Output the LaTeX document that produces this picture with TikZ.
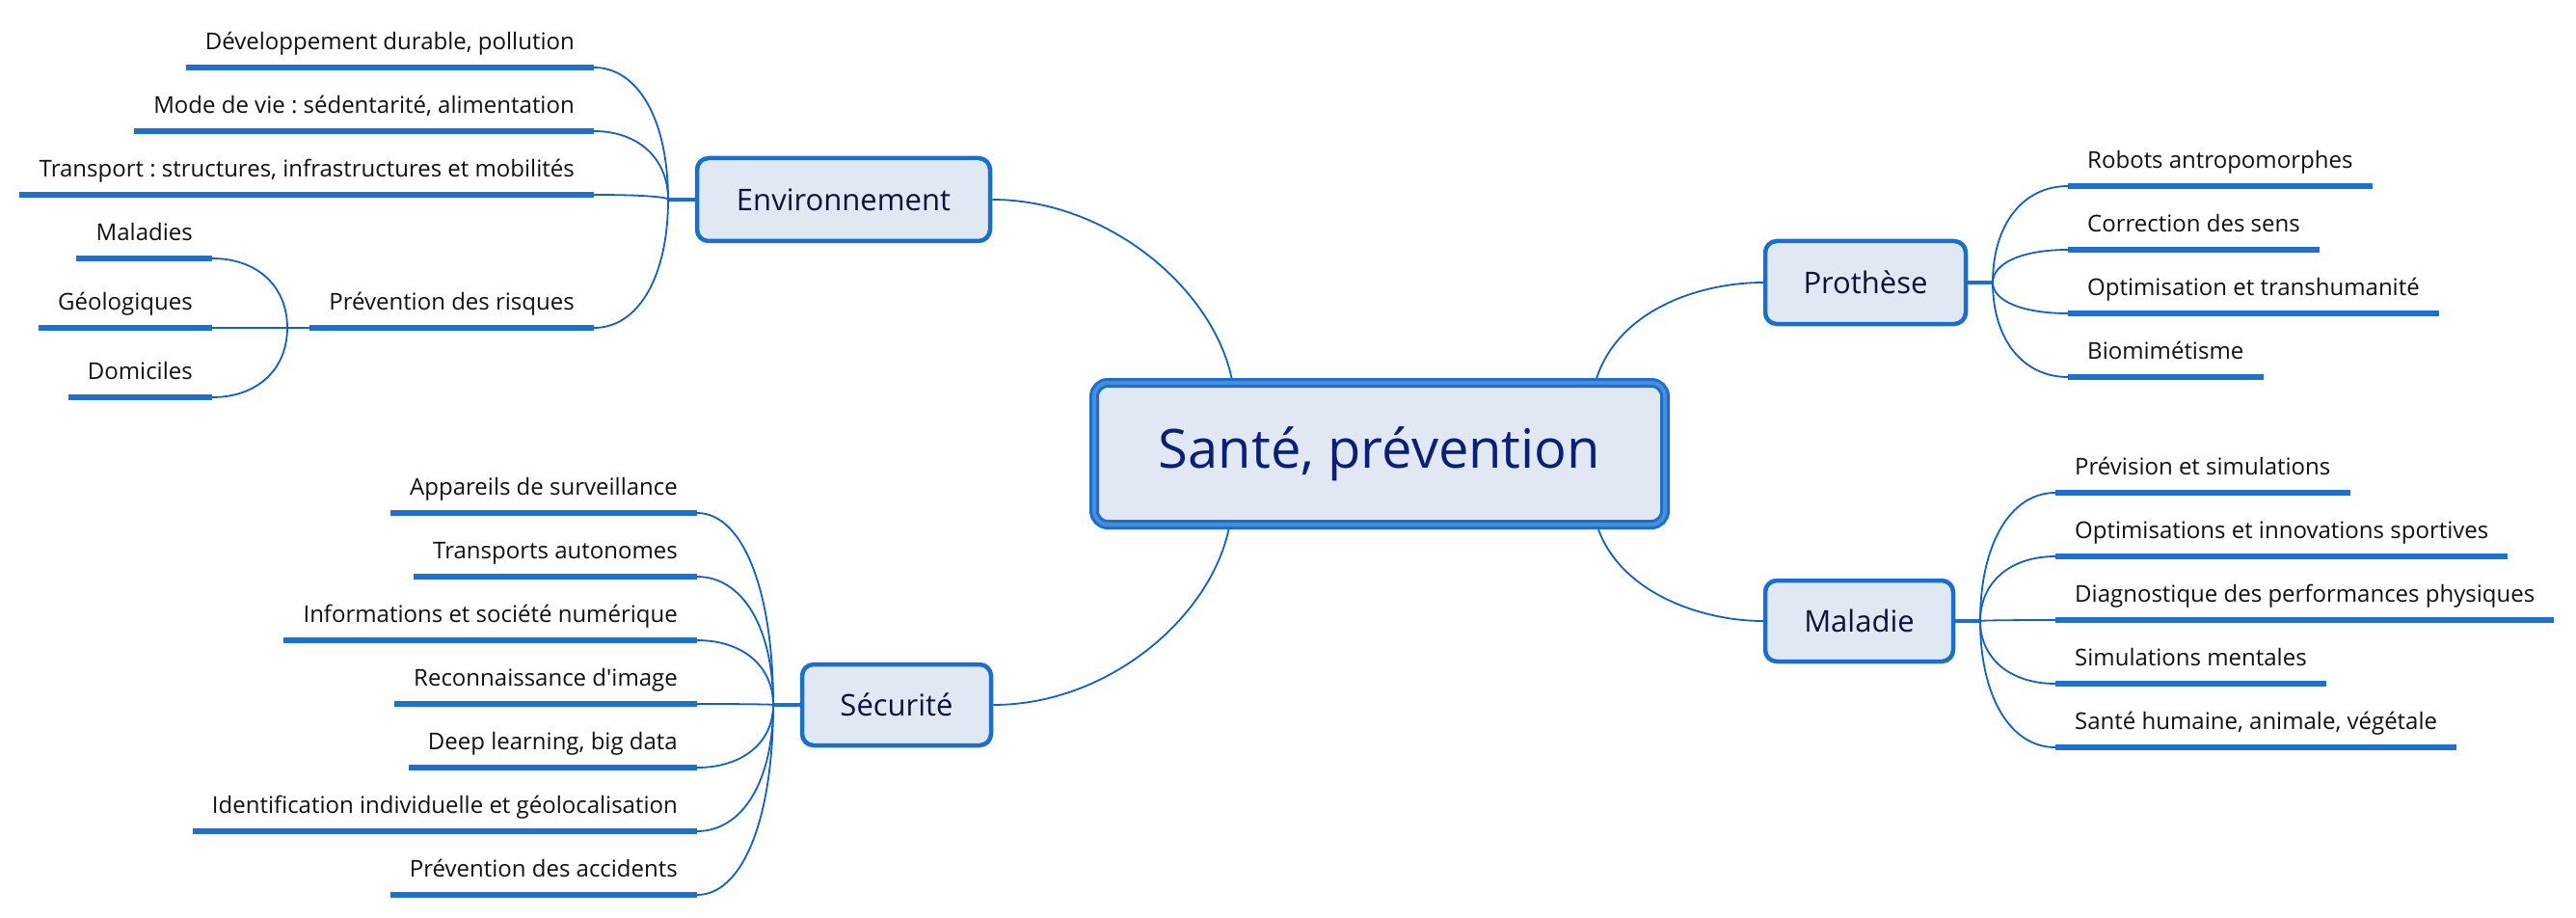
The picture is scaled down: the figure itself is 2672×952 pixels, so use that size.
\documentclass[tikz,border=0pt]{standalone}
\usepackage{fontspec}
\setmainfont{Open Sans}
\usetikzlibrary{calc}
\frenchspacing
\definecolor{barblue}{RGB}{30,112,205}
\definecolor{linkblue}{RGB}{18,96,192}
\definecolor{boxfill}{RGB}{223,232,243}
\definecolor{boxdraw}{RGB}{28,110,203}
\definecolor{boxlight}{RGB}{72,140,218}
\definecolor{navy}{RGB}{12,30,120}
\definecolor{txt}{RGB}{17,17,17}
\definecolor{toptxt}{RGB}{10,20,55}
\newcommand\linkcurve[2]{\draw[link] (#1) .. controls ($(#1)!0.6!(#1-|#2)$) and ($(#2)!0.6!(#2|-#1)$) .. (#2);}
\begin{document}
\begin{tikzpicture}[x=1pt,y=1pt,
  leafL/.style={anchor=south east, inner xsep=20pt, inner ysep=13pt, text height=17pt, text depth=5pt, font=\fontsize{24}{28}\selectfont, text=txt},
  leafR/.style={leafL, anchor=south west},
  bar/.style={draw=barblue, line width=6pt},
  link/.style={draw=linkblue, line width=1.8pt},
  stub/.style={draw=boxdraw, line width=4pt},
  topic/.style={draw=boxdraw, line width=4.5pt, fill=boxfill, rounded corners=12pt, minimum height=86pt, font=\fontsize{31}{36}\selectfont, text=toptxt, inner sep=0pt},
  central/.style={draw=boxdraw, line width=10pt, fill=boxfill, rounded corners=14pt, minimum width=592pt, minimum height=147pt, font=\fontsize{56}{64}\selectfont, text=navy, inner sep=0pt, postaction={draw=boxlight, line width=4pt}}]
\useasboundingbox[fill=white] (0,0) rectangle (2672,-952);

% central and topics
\node[central] (c) at (1431,-470.5) {Santé, prévention};
\node[topic, minimum width=304pt] (env) at (875,-207) {Environnement};
\node[topic, minimum width=208pt] (pro) at (1935,-293) {Prothèse};
\node[topic, minimum width=195pt, minimum height=84pt] (mal) at (1928.5,-644) {Maladie};
\node[topic, minimum width=196pt, minimum height=84pt] (sec) at (930,-731) {Sécurité};

% junctions
\coordinate (jE) at (693,-207);
\coordinate (jR) at (298,-340);
\coordinate (jP) at (2067,-293);
\coordinate (jM) at (2054,-644);
\coordinate (jS) at (802,-731);

% main links
\draw[link] (env.east) .. controls (1150,-207) and (1258,-300) .. ($(c.north west)!0.245!(c.north east)$);
\draw[link] ($(c.north west)!0.874!(c.north east)$) .. controls (1680,-320) and (1765,-293) .. (pro.west);
\draw[link] ($(c.south west)!0.877!(c.south east)$) .. controls (1682,-615) and (1765,-644) .. (mal.west);
\draw[link] ($(c.south west)!0.24!(c.south east)$) .. controls (1255,-640) and (1150,-731) .. (sec.east);

% stubs
\draw[stub] (env.west) -- (jE);
\draw[stub] (pro.east) -- (jP);
\draw[stub] (mal.east) -- (jM);
\draw[stub] (sec.west) -- (jS);

% Environnement leaves
\node[leafL] (e1) at (616,-70) {Développement durable, pollution};
\node[leafL] (e2) at (616,-136) {Mode de vie : sédentarité, alimentation};
\node[leafL] (e3) at (616,-202) {Transport : structures, infrastructures et mobilités};
\node[leafL] (e4) at (616,-340) {Prévention des risques};
\node[leafL] (r1) at (220,-268) {Maladies};
\node[leafL] (r2) at (220,-340) {Géologiques};
\node[leafL] (r3) at (220,-412) {Domiciles};

% Prothese leaves
\node[leafR] (p1) at (2145,-193) {Robots antropomorphes};
\node[leafR] (p2) at (2145,-259) {Correction des sens};
\node[leafR] (p3) at (2145,-325) {Optimisation et transhumanité};
\node[leafR] (p4) at (2145,-391) {Biomimétisme};

% Maladie leaves
\node[leafR] (m1) at (2132,-511) {Prévision et simulations};
\node[leafR] (m2) at (2132,-577) {Optimisations et innovations sportives};
\node[leafR] (m3) at (2132,-643) {Diagnostique des performances physiques};
\node[leafR] (m4) at (2132,-709) {Simulations mentales};
\node[leafR] (m5) at (2132,-775) {Santé humaine, animale, végétale};

% Securite leaves
\node[leafL] (s1) at (723,-532) {Appareils de surveillance};
\node[leafL] (s2) at (723,-598) {Transports autonomes};
\node[leafL] (s3) at (723,-664) {Informations et société numérique};
\node[leafL] (s4) at (723,-730) {Reconnaissance d\textquotesingle image};
\node[leafL] (s5) at (723,-796) {Deep learning, big data};
\node[leafL] (s6) at (723,-862) {Identification individuelle et géolocalisation};
\node[leafL] (s7) at (723,-928) {Prévention des accidents};

% bars
\foreach \n in {e1,e2,e3,e4,r1,r2,r3,p1,p2,p3,p4,m1,m2,m3,m4,m5,s1,s2,s3,s4,s5,s6,s7}
  \draw[bar] (\n.south west) -- (\n.south east);

% leaf links
\foreach \n in {e1,e2,e3,e4} {\linkcurve{\n.south east}{jE}}
\foreach \n in {r1,r2,r3} {\linkcurve{\n.south east}{jR}}
\draw[link] (e4.south west) -- (jR);
\foreach \n in {p1,p2,p3,p4} {\linkcurve{\n.south west}{jP}}
\foreach \n in {m1,m2,m3,m4,m5} {\linkcurve{\n.south west}{jM}}
\foreach \n in {s1,s2,s3,s4,s5,s6,s7} {\linkcurve{\n.south east}{jS}}
\end{tikzpicture}
\end{document}
